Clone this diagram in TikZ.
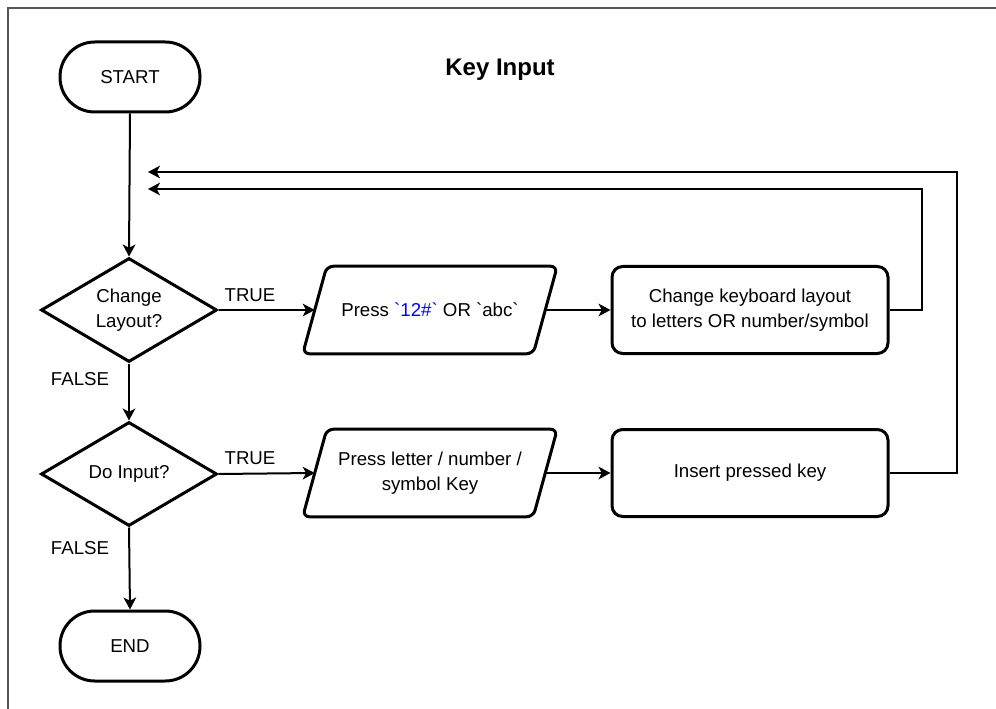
\documentclass[tikz,border=0pt]{standalone}
\usepackage{fontspec}
\setmainfont{Liberation Sans}[Ligatures=TeXOff]
\usetikzlibrary{shapes.geometric,arrows.meta,calc}
\definecolor{frameGray}{HTML}{555555}
\definecolor{codeBlue}{HTML}{0000FF}
\begin{document}
\begin{tikzpicture}[x=0.75pt,y=-0.75pt,
  every node/.style={font=\fontsize{14}{18.5}\selectfont, text=black},
  shapeline/.style={draw=black, line width=2.25pt},
  terminal/.style={shapeline, rectangle, rounded corners=26pt,
    minimum width=105pt, minimum height=52.5pt},
  decision/.style={shapeline, diamond, aspect=1.7, minimum width=132pt,
    minimum height=78pt, inner sep=0pt, align=center},
  process/.style={shapeline, rectangle, rounded corners=8pt,
    minimum width=207pt, minimum height=65.25pt, align=center},
  iobody/.style={rectangle, minimum width=172.5pt, minimum height=65.25pt,
    align=center, inner sep=0pt},
  flow/.style={draw=black, line width=1.5pt,
    -{Stealth[length=9pt,width=9.5pt,inset=2.5pt]}},
  edgelabel/.style={inner sep=0pt}
]
\useasboundingbox (0,0) rectangle (996,709);
\fill[white] (0,0) rectangle (996,709);

% open frame (top and left edges)
\draw[frameGray, line width=1.2pt] (8,709) -- (8,8) -- (996,8);

% title
\node[font=\bfseries\fontsize{18}{22}\selectfont] (title) at (500,70) {Key Input};

% terminals
\node[terminal] (start) at (130,77) {START};
\node[terminal] (end) at (130,646) {END};

% decisions
\node[decision] (d1) at (129,310) {Change\\Layout?};
\node[decision] (d2) at (129,474) {Do Input?};

% input/output bodies (parallelograms drawn around them)
\node[iobody] (p1) at (430,310) {Press \textcolor{codeBlue}{`12\#`} OR `abc`};
\node[iobody] (p2) at (430,473) {Press letter / number /\\symbol Key};
\foreach \p in {p1,p2}
  \draw[shapeline, rounded corners=5pt]
    ($(\p.north west)+(12,0)$) -- ($(\p.north east)+(12,0)$) --
    ($(\p.south east)+(-12,0)$) -- ($(\p.south west)+(-12,0)$) -- cycle;

% processes
\node[process] (b1) at (750,310) {Change keyboard layout\\to letters OR number/symbol};
\node[process] (b2) at (750,473) {Insert pressed key};

% return path corners and ends
\coordinate (c1) at (922,189);
\coordinate (t1) at (148,189);
\coordinate (c2) at (957,172);
\coordinate (t2) at (148,172);

% connectors
\draw[flow] (start.south) -- (d1.north);
\draw[flow] (d1.south) -- (d2.north);
\draw[flow] (d2.south) -- (end.north);
\draw[flow] (d1.east) -- (p1.west);
\draw[flow] (d2.east) -- (p2.west);
\draw[flow] (p1.east) -- (b1.west);
\draw[flow] (p2.east) -- (b2.west);
\draw[flow] (b1.east) -| (c1) -- (t1);
\draw[flow] (b2.east) -| (c2) -- (t2);

% branch labels
\node[edgelabel] (true1) at (250,295) {TRUE};
\node[edgelabel] (true2) at (250,458) {TRUE};
\node[edgelabel] (false1) at (80,379) {FALSE};
\node[edgelabel] (false2) at (80,548) {FALSE};
\end{tikzpicture}
\end{document}
